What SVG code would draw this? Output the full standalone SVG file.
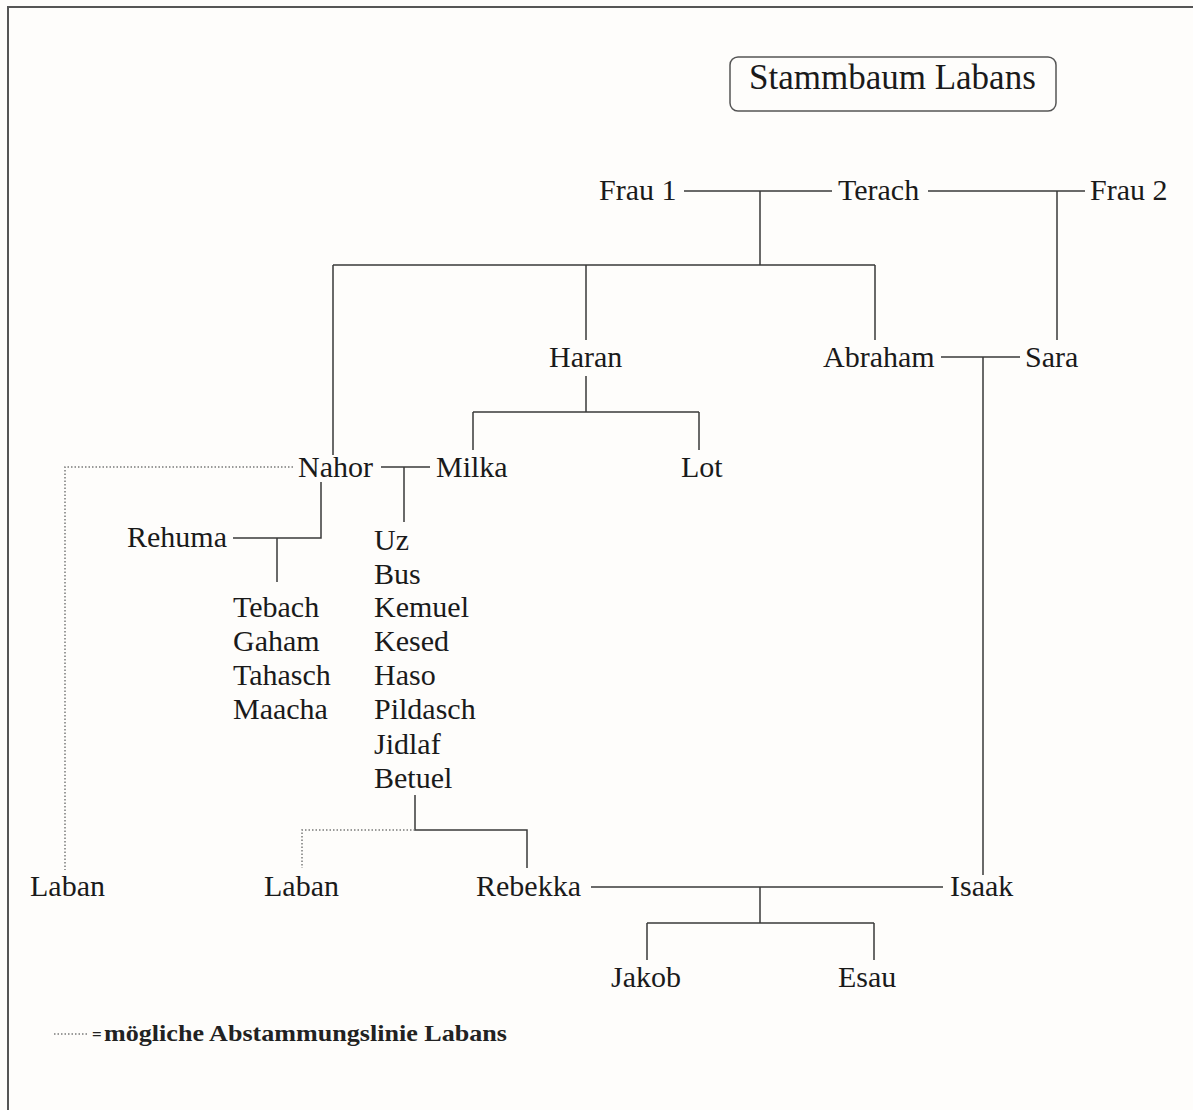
<svg xmlns="http://www.w3.org/2000/svg" width="1193" height="1110" viewBox="0 0 1193 1110">
<style>
.n{font-family:"Liberation Serif","Times New Roman",serif;font-size:30px;fill:#1a1a1a}
.t{font-family:"Liberation Serif","Times New Roman",serif;font-size:35px;fill:#1a1a1a}
.lg{font-family:"Liberation Serif","Times New Roman",serif;font-size:23px;font-weight:bold;fill:#222}
.c{stroke:#3a3a3a;stroke-width:1.5;fill:none}
.d{stroke:#7a7a7a;stroke-width:1.5;fill:none;stroke-dasharray:1.5 2}
</style>
<rect x="0" y="0" width="1193" height="1110" fill="#fefdfb"/>
<rect x="8" y="7" width="1200" height="1120" fill="none" stroke="#555" stroke-width="2"/>
<g id="title"><rect x="730" y="57" width="326" height="54" rx="8" fill="none" stroke="#555" stroke-width="1.5"/><text class="t" x="749" y="89">Stammbaum Labans</text></g>
<g id="connectors">
<path class="c" d="M684 191H832M928 191H1085M760 191V265M1057 191V340M333 265H875M333 265V455M586 265V340M875 265V340"/>
<path class="c" d="M941 357H1020M983 357V875"/>
<path class="c" d="M586 376V412M473 412H699M473 412V450M699 412V450"/>
<path class="c" d="M381 467H430M404 467V522"/>
<path class="c" d="M321 482V538H233M277 538V582"/>
<path class="c" d="M415 795V830H527V868"/>
<path class="c" d="M591 887H943M760 887V923M647 923H874M647 923V960M874 923V960"/>
<path class="d" d="M293 467H65V870"/>
<path class="d" d="M415 830H302V868"/>
</g>
<g id="frau1"><text class="n" x="599" y="200">Frau 1</text></g>
<g id="terach"><text class="n" x="838" y="200">Terach</text></g>
<g id="frau2"><text class="n" x="1090" y="200">Frau 2</text></g>
<g id="haran"><text class="n" x="549" y="367">Haran</text></g>
<g id="abraham"><text class="n" x="823" y="367">Abraham</text></g>
<g id="sara"><text class="n" x="1025" y="367">Sara</text></g>
<g id="nahor"><text class="n" x="298" y="477">Nahor</text></g>
<g id="milka"><text class="n" x="436" y="477">Milka</text></g>
<g id="lot"><text class="n" x="681" y="477">Lot</text></g>
<g id="rehuma"><text class="n" x="127" y="547">Rehuma</text></g>
<g id="rehuma-kinder"><text class="n" x="233" y="617">Tebach</text><text class="n" x="233" y="651">Gaham</text><text class="n" x="233" y="685">Tahasch</text><text class="n" x="233" y="719">Maacha</text></g>
<g id="milka-kinder"><text class="n" x="374" y="550">Uz</text><text class="n" x="374" y="584">Bus</text><text class="n" x="374" y="617">Kemuel</text><text class="n" x="374" y="651">Kesed</text><text class="n" x="374" y="685">Haso</text><text class="n" x="374" y="719">Pildasch</text><text class="n" x="374" y="754">Jidlaf</text></g>
<g id="betuel"><text class="n" x="374" y="788">Betuel</text></g>
<g id="laban1"><text class="n" x="30" y="896">Laban</text></g>
<g id="laban2"><text class="n" x="264" y="896">Laban</text></g>
<g id="rebekka"><text class="n" x="476" y="896">Rebekka</text></g>
<g id="isaak"><text class="n" x="950" y="896">Isaak</text></g>
<g id="jakob"><text class="n" x="611" y="987">Jakob</text></g>
<g id="esau"><text class="n" x="838" y="987">Esau</text></g>
<g id="legend"><path class="d" d="M54 1034H88"/><text class="lg" x="92" y="1040" style="font-size:17px">=</text><text class="lg" x="104" y="1041" textLength="403" lengthAdjust="spacingAndGlyphs">mögliche Abstammungslinie Labans</text></g>
</svg>
